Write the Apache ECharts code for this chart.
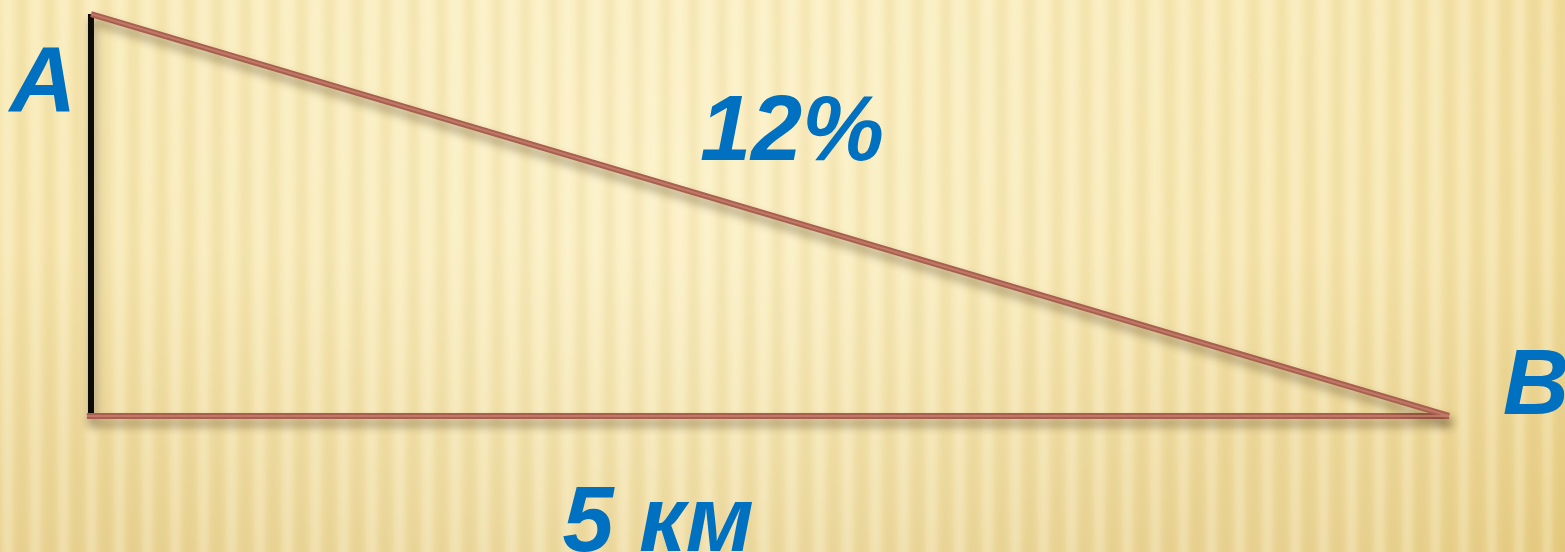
<!DOCTYPE html>
<html>
<head>
<meta charset="utf-8">
<script src="https://cdn.jsdelivr.net/npm/echarts@6/dist/echarts.min.js"></script>
<style>
html,body{margin:0;padding:0;width:100%;height:100%;overflow:hidden;}
#c{width:1565px;height:552px;}
</style>
</head>
<body>
<div id="c"></div>
<script>
// Triangle data (km): base 5 km, height = 12% grade drawn (not to scale height 0.6)
const vertexTop = [0, 0.6];
const vertexCorner = [0, 0];
const vertexB = [5, 0];
const legVertical = [vertexCorner, vertexTop];
const legBase = [[-0.015, 0], vertexB];
const hypotenuse = [vertexTop, vertexB];
// text labels and their anchor positions (data units)
const labelTexts = ['A', '12%', 'B', '5 км'];
const labelAnchors = [[-0.177, 0.4925], [2.581, 0.4195], [5.32, 0.041], [2.088, -0.163]];

function makeBg(w, h) {
  const cv = document.createElement('canvas');
  cv.width = w; cv.height = h;
  const g = cv.getContext('2d');
  const lg = g.createLinearGradient(0, 0, 0, h);
  lg.addColorStop(0, '#f7e7b0');
  lg.addColorStop(0.45, '#f5e3a9');
  lg.addColorStop(1, '#e7cf8c');
  g.fillStyle = lg; g.fillRect(0, 0, w, h);
  const rg = g.createRadialGradient(w * 0.42, h * 0.35, 50, w * 0.42, h * 0.35, w * 0.65);
  rg.addColorStop(0, 'rgba(255,250,220,0.5)');
  rg.addColorStop(0.6, 'rgba(255,250,220,0.1)');
  rg.addColorStop(1, 'rgba(225,190,100,0.45)');
  g.fillStyle = rg; g.fillRect(0, 0, w, h);
  const period = 28;
  for (let x = 0; x < w; x++) {
    const s = Math.sin(2 * Math.PI * x / period);
    if (s > 0) {
      g.fillStyle = 'rgba(255,252,232,' + (0.26 * s).toFixed(3) + ')';
    } else {
      g.fillStyle = 'rgba(205,170,85,' + (0.10 * -s).toFixed(3) + ')';
    }
    g.fillRect(x, 0, 1, h);
  }
  return cv;
}

const chart = echarts.init(document.getElementById('c'), null, {renderer: 'canvas'});
const shadow = {shadowBlur: 10, shadowColor: 'rgba(60,40,10,0.45)', shadowOffsetY: 7, shadowOffsetX: 2};
const font = {fontFamily: 'Liberation Sans, Arial, sans-serif', fontWeight: 'bold', fontStyle: 'italic', fontSize: 92, color: '#0070c0', opacity: 1};

chart.setOption({
  backgroundColor: {image: makeBg(1565, 552), repeat: 'no-repeat'},
  animation: false,
  grid: {left: 0, right: 0, top: 0, bottom: 0},
  xAxis: {type: 'value', min: -0.335, max: 5.427, show: false},
  yAxis: {type: 'value', min: -0.203, max: 0.6209, show: false},
  series: [
    {type: 'line', data: legVertical, symbol: 'none', z: 2,
      lineStyle: Object.assign({color: '#0d0b08', width: 6}, shadow)},
    {type: 'line', data: legBase, symbol: 'none', z: 3,
      lineStyle: Object.assign({color: '#a95f4f', width: 6}, shadow)},
    {type: 'line', data: hypotenuse, symbol: 'none', z: 4,
      lineStyle: Object.assign({color: '#a95f4f', width: 6}, shadow)},
    {type: 'line', data: legBase, symbol: 'none', z: 5,
      lineStyle: {color: 'rgba(196,128,108,0.8)', width: 2}},
    {type: 'line', data: hypotenuse, symbol: 'none', z: 5,
      lineStyle: {color: 'rgba(196,128,108,0.8)', width: 2}},
    {type: 'scatter', symbolSize: 2, itemStyle: {color: 'rgba(0,0,0,0)', opacity: 1}, z: 6, clip: false,
      emphasis: {disabled: true},
      data: labelAnchors.map((p, i) => ({value: p, name: labelTexts[i]})),
      label: Object.assign({show: true, position: 'inside', formatter: p => p.name, align: 'center', verticalAlign: 'middle'}, font)}
  ]
});
</script>
</body>
</html>
